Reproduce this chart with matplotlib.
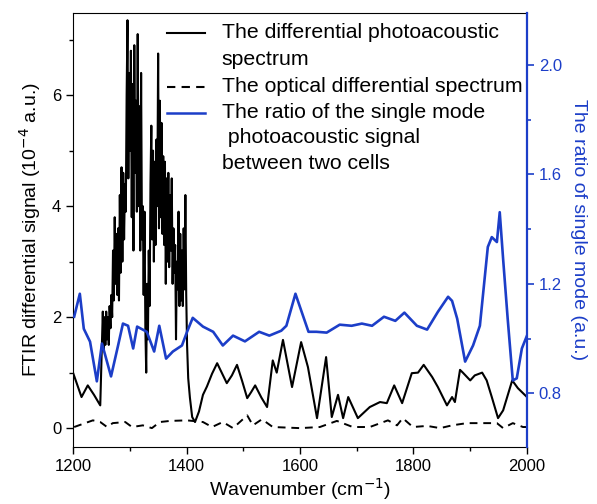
import matplotlib
matplotlib.use("Agg")
import matplotlib.pyplot as plt
from matplotlib.ticker import MultipleLocator

plt.rcParams["font.family"] = ["Liberation Sans", "DejaVu Sans"]

BLUE = "#1c3ec8"

# differential photoacoustic spectrum (left axis, 10^-4 a.u.)
pa_wn = [1200, 1215, 1226, 1237, 1248,
         1251.0, 1252.5, 1254.0, 1255.5, 1257.0, 1258.5, 1260.0, 1261.5,
         1263.0, 1264.5, 1266.0, 1267.5, 1269.0, 1270.5, 1272.0, 1273.5,
         1275.0, 1276.5, 1278.0, 1279.5, 1281.0, 1282.5, 1284.0, 1285.5,
         1287.0, 1288.5, 1290.0, 1291.5, 1293.0, 1294.5, 1296.0, 1297.5,
         1299.0, 1300.5, 1302.0, 1303.5, 1305.0, 1306.5, 1308.0, 1309.5,
         1311.0, 1312.5, 1314.0, 1315.5, 1317.0, 1318.5, 1320.0, 1321.5,
         1323.0, 1324.5, 1326.0, 1327.5, 1329.0, 1330.5, 1332.0, 1333.5,
         1335.0, 1336.5, 1338.0, 1339.5, 1341.0, 1342.5, 1344.0, 1345.5,
         1347.0, 1348.5, 1350.0, 1351.5, 1353.0, 1354.5, 1356.0, 1357.5,
         1359.0, 1360.5, 1362.0, 1363.5, 1365.0, 1366.5, 1368.0, 1369.5,
         1371.0, 1372.5, 1374.0, 1375.5, 1377.0, 1378.5, 1380.0, 1381.5,
         1383.0, 1384.5, 1386.0, 1387.5, 1389.0, 1390.5, 1392.0, 1393.5,
         1395.0, 1396.5, 1398.0, 1399.5, 1401.0, 1403.0,
         1406, 1410, 1415, 1422, 1429, 1436, 1445, 1454, 1462, 1471, 1480,
         1489, 1498, 1507, 1514, 1521, 1532, 1542,
         1552, 1559, 1570, 1586, 1602, 1614, 1630, 1646, 1656, 1667, 1676,
         1685, 1702, 1723, 1741, 1753, 1766, 1780, 1797, 1808, 1818, 1833,
         1843, 1859, 1868, 1873, 1882, 1887, 1900, 1908, 1921, 1929, 1938,
         1949, 1958, 1974, 1984, 2000]
pa_val = [1.0, 0.56, 0.77, 0.6, 0.41,
          1.5, 2.1, 1.4, 2.0, 1.5, 2.1, 1.6, 2.0,
          1.5, 2.2, 1.8, 2.4, 2.0, 3.2, 2.3, 3.8,
          2.6, 3.5, 2.4, 3.6, 2.3, 4.2, 2.8, 4.7,
          3.0, 4.6, 3.4, 4.4, 3.9, 6.0, 7.35, 4.5,
          6.4, 5.0, 6.8, 3.8, 6.2, 3.2, 6.9, 4.6,
          5.9, 3.9, 7.1, 4.0, 5.8, 3.2, 6.4, 3.4,
          4.0, 2.4, 3.9, 1.8, 1.0, 2.6, 1.6, 3.2,
          2.2, 4.4, 5.45, 3.4, 5.0, 3.0, 4.8, 3.3,
          5.2, 4.0, 6.75, 3.6, 5.9, 3.8, 5.5, 3.5,
          4.9, 3.3, 4.8, 2.6, 4.5, 3.0, 4.6, 2.9,
          4.2, 3.2, 4.5, 2.6, 3.6, 2.8, 3.3, 1.6,
          3.0, 2.5, 3.9, 2.2, 3.5, 2.3, 3.2, 2.2,
          3.6, 2.5, 4.2, 2.4, 1.5, 0.9,
          0.55, 0.2, 0.11, 0.3, 0.6, 0.75, 0.98, 1.17, 1.0, 0.81, 0.95,
          1.14, 0.85, 0.54, 0.65, 0.77, 0.55, 0.38,
          1.22, 1.0, 1.59, 0.74, 1.55, 1.1, 0.18, 1.28, 0.2, 0.6, 0.18,
          0.56, 0.18, 0.38, 0.47, 0.45, 0.77, 0.45, 0.99, 1.0, 1.14, 0.92,
          0.74, 0.41, 0.56, 0.47, 1.05, 1.0, 0.86, 0.95, 1.0, 0.86, 0.56,
          0.18, 0.32, 0.86, 0.72, 0.56]

# optical differential spectrum (left axis)
op_wn = [1202, 1235, 1248, 1260, 1270, 1292, 1304, 1323, 1339, 1353, 1371,
         1401, 1429, 1445, 1464, 1482, 1507, 1517, 1533, 1552, 1600, 1635,
         1665, 1693, 1723, 1755, 1771, 1781, 1799, 1824, 1847, 1868, 1894,
         1947, 1958, 1975, 1993, 2000]
op_val = [0.02, 0.14, 0.11, 0.02, 0.09, 0.11, 0.02, 0.05, 0.0, 0.11, 0.13,
          0.14, 0.11, 0.02, 0.11, 0.0, 0.23, 0.05, 0.16, 0.02, 0.0, 0.02,
          0.13, 0.02, 0.02, 0.14, 0.05, 0.18, 0.02, 0.04, 0.0, 0.05, 0.09,
          0.09, 0.0, 0.09, 0.02, 0.02]

# ratio of single mode signal between two cells (right axis)
ratio_wn = [1202, 1212, 1219, 1230, 1242, 1251, 1256, 1267, 1279, 1288, 1297,
            1306, 1313, 1330, 1343, 1352, 1364, 1376, 1392, 1401, 1411, 1429,
            1447, 1464, 1482, 1503, 1528, 1546, 1567, 1576, 1592, 1615, 1629,
            1647, 1670, 1691, 1709, 1727, 1748, 1768, 1784, 1806, 1824, 1843,
            1861, 1868, 1877, 1891, 1905, 1917, 1931, 1938, 1947, 1952, 1958,
            1966, 1975, 1982, 1991, 2000]
ratio_val = [1.08, 1.164, 1.036, 0.989, 0.844, 0.982, 0.945, 0.862, 0.971,
             1.055, 1.047, 0.964, 1.044, 1.025, 0.953, 1.047, 0.927, 0.953,
             0.975, 1.025, 1.076, 1.044, 1.025, 0.975, 1.011, 0.99, 1.025,
             1.011, 1.029, 1.047, 1.164, 1.025, 1.025, 1.022, 1.051, 1.047,
             1.055, 1.047, 1.08, 1.065, 1.095, 1.047, 1.033, 1.098, 1.153,
             1.138, 1.073, 0.916, 0.975, 1.047, 1.335, 1.371, 1.353, 1.462,
             1.29, 1.073, 0.847, 0.855, 0.964, 1.011]

legend_rows = [
    ("solid", "The differential photoacoustic", "k"),
    (None, "spectrum", None),
    ("dashed", "The optical differential spectrum", "k"),
    ("solid", "The ratio of the single mode", BLUE),
    (None, " photoacoustic signal", None),
    (None, "between two cells", None),
]


def main() -> None:
    fig = plt.figure(figsize=(5.97, 5.04), dpi=100)
    ax = fig.add_axes([0.1223, 0.1131, 0.7604, 0.8611])
    ax2 = ax.twinx()

    ax.plot(pa_wn, pa_val, color="k", lw=1.5)
    ax.plot(op_wn, op_val, color="k", lw=1.4, ls=(0, (4, 3)))
    ax2.plot(ratio_wn, ratio_val, color=BLUE, lw=1.9)

    ax.set_xlim(1200, 2000)
    ax.set_ylim(-0.34, 7.48)
    ax2.set_ylim(0.604, 2.19)

    ax.xaxis.set_major_locator(MultipleLocator(200))
    ax.xaxis.set_minor_locator(MultipleLocator(100))
    ax.yaxis.set_major_locator(MultipleLocator(2))
    ax.yaxis.set_minor_locator(MultipleLocator(1))
    ax2.yaxis.set_major_locator(MultipleLocator(0.4))
    ax2.yaxis.set_minor_locator(MultipleLocator(0.2))
    ax2.yaxis.set_major_formatter(plt.FormatStrFormatter("%.1f"))

    ax.tick_params(which="major", direction="out", length=5, width=1, labelsize=12)
    ax.tick_params(which="minor", direction="out", length=3, width=1)
    ax2.tick_params(which="major", direction="out", length=5, width=1.2,
                    labelsize=12, colors=BLUE)
    ax2.tick_params(which="minor", direction="out", length=3, width=1.2, colors=BLUE)

    for s in ("left", "top", "bottom"):
        ax2.spines[s].set_visible(False)
    ax.spines["right"].set_visible(False)
    ax2.spines["right"].set_color(BLUE)
    ax2.spines["right"].set_linewidth(1.6)

    ax.set_xlabel("Wavenumber (cm$^{-1}$)", fontsize=14, labelpad=2)
    ax.set_ylabel("FTIR differential signal (10$^{-4}$ a.u.)", fontsize=14, labelpad=6)
    ax2.set_ylabel("The ratio of single mode (a.u.)", fontsize=14, color=BLUE,
                   rotation=270, labelpad=18)

    # hand-drawn legend, handle sits next to the first line of each entry
    row_y = [0.954, 0.894, 0.8295, 0.7696, 0.712, 0.654]
    for (style, text, color), y in zip(legend_rows, row_y):
        if style is not None:
            ls = "-" if style == "solid" else (0, (4, 3))
            ax.plot([0.207, 0.29], [y, y], transform=ax.transAxes, color=color,
                    lw=1.8 if color == BLUE else 1.5, ls=ls, clip_on=False)
        ax.text(0.328, y, text, transform=ax.transAxes, fontsize=15.3,
                va="center", ha="left")

    fig.savefig("out.png", dpi=100)


if __name__ == "__main__":
    main()
